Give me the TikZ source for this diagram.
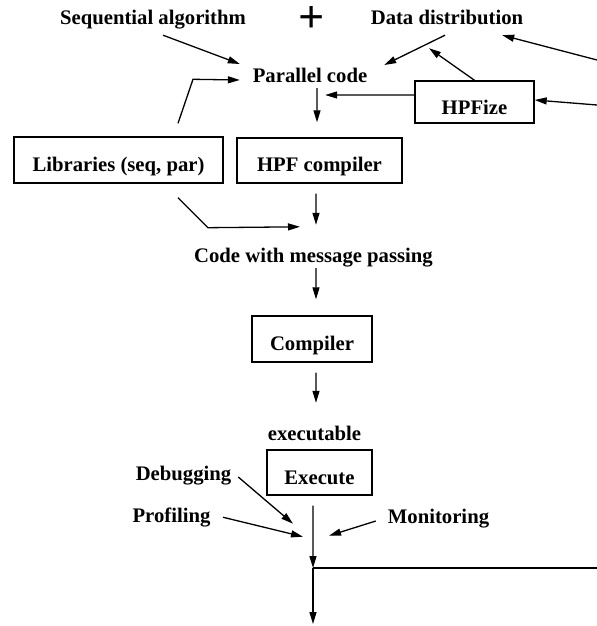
\documentclass[tikz,border=0pt]{standalone}
\usepackage{fontspec}
\setmainfont{Liberation Serif}
\usetikzlibrary{arrows.meta}
\begin{document}
\begin{tikzpicture}[x=1bp,y=-1bp,
  lbl/.style={inner sep=0pt,anchor=base,text height=14bp,text depth=4.5bp,
    font=\fontsize{20.7bp}{25bp}\selectfont\bfseries},
  box/.style={draw,line width=1.4bp,inner sep=0pt,text height=28bp,text depth=5bp,
    font=\fontsize{20.7bp}{25bp}\selectfont\bfseries},
  arr/.style={line width=1.3bp,-{Triangle[length=12bp,width=7bp]}},
  ln/.style={line width=1.3bp}]
\useasboundingbox (0,0) rectangle (597,626);
% text nodes
\node[lbl] (seq) at (153,25) {Sequential algorithm};
\node[inner sep=0pt,anchor=base,font=\fontsize{46bp}{46bp}\selectfont\bfseries] (plus) at (311.5,33) {+};
\node[lbl] (dd) at (447,25) {Data distribution};
\node[lbl] (par) at (310,83) {Parallel code};
\node[lbl] (cmp) at (313.5,262) {Code with message passing};
\node[lbl] (exe) at (314.5,440) {executable};
\node[lbl] (dbg) at (183.5,480) {Debugging};
\node[lbl] (prof) at (171.5,522) {Profiling};
\node[lbl] (mon) at (438.5,523) {Monitoring};
% boxes
\node[box,minimum width=119bp,minimum height=42bp,text height=31bp] (hpfize) at (474.5,102) {HPFize};
\node[box,minimum width=209bp,minimum height=46bp] (lib) at (118.5,160) {Libraries (seq, par)};
\node[box,minimum width=165bp,minimum height=45bp] (hpfc) at (319.5,160.5) {HPF compiler};
\node[box,minimum width=120bp,minimum height=46bp] (comp) at (312,339) {Compiler};
\node[box,minimum width=105bp,minimum height=45bp] (run) at (319.5,472.5) {Execute};
% free ends
\coordinate (rA) at (597,60);
\coordinate (rB) at (597,105);
\coordinate (rC) at (597,568);
\coordinate (j) at (313,568);
\coordinate (out) at (313,624);
% connectors
\draw[arr] ([xshift=10bp,yshift=-5.5bp]seq.south) -- ([xshift=-12.8bp,yshift=14.25bp]par.west);
\draw[arr] ([xshift=59.5bp,yshift=13bp]lib.north) -- ++(15,-44) -- ([xshift=-12.8bp,yshift=-1.75bp]par.west);
\draw[arr] ([xshift=-2bp,yshift=-5.5bp]dd.south) -- ([xshift=16.8bp,yshift=13.25bp]par.east);
\draw[arr] (hpfize.north) -- ([xshift=-18bp,yshift=-18.5bp]dd.south);
\draw[arr] ([yshift=7bp]hpfize.west) -- ([xshift=-42.2bp,yshift=-16.75bp]par.east);
\draw[arr] (rA) -- ([xshift=-21.2bp,yshift=-5.5bp]dd.south east);
\draw[arr] (rB) -- ([yshift=2bp]hpfize.east);
\draw[arr] ([xshift=7bp,yshift=-0.5bp]par.south) -- ([xshift=-2.5bp,yshift=15bp]hpfc.north);
\draw[arr] ([xshift=59.5bp,yshift=-14bp]lib.south) -- ++(30,30) -- ([xshift=-13.5bp,yshift=21bp]cmp.north);
\draw[arr] ([xshift=-3.5bp,yshift=-10bp]hpfc.south) -- ([xshift=2.5bp,yshift=23bp]cmp.north);
\draw[arr] ([xshift=2.5bp,yshift=-1.5bp]cmp.south) -- ([xshift=4bp,yshift=16bp]comp.north);
\draw[arr] ([xshift=4bp,yshift=-10bp]comp.south) -- ([xshift=1.5bp,yshift=23bp]exe.north);
\draw[arr] ([xshift=-6.5bp,yshift=-10bp]run.south) -- (j);
\draw[ln] (j) -- (rC);
\draw[arr] (j) -- (out);
\draw[arr] ([xshift=6.8bp,yshift=-1.75bp]dbg.east) -- ([xshift=-26.5bp,yshift=-28bp]run.south);
\draw[arr] ([xshift=12.4bp]prof.east) -- ([xshift=-16.5bp,yshift=-41bp]run.south);
\draw[arr] ([xshift=-11.9bp,yshift=-2.75bp]mon.west) -- ([xshift=9.5bp,yshift=-40bp]run.south);
\end{tikzpicture}
\end{document}
